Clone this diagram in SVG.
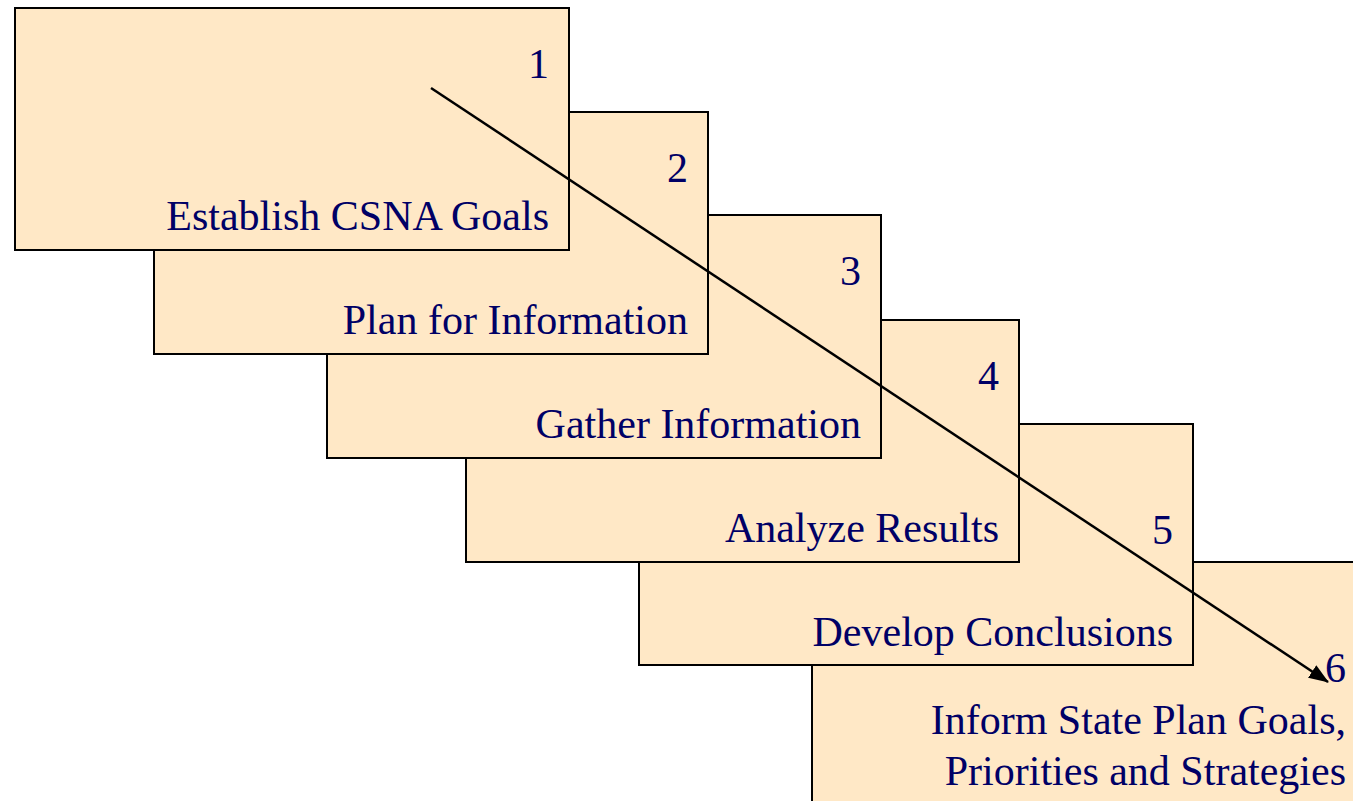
<svg xmlns="http://www.w3.org/2000/svg" width="1353" height="801" viewBox="0 0 1353 801">
<defs>
<marker id="ah" markerWidth="20" markerHeight="15" refX="19" refY="7.5" orient="auto" markerUnits="userSpaceOnUse" viewBox="0 0 20 15">
<path d="M0,0 L20,7.5 L0,15 z" fill="#000"/>
</marker>
</defs>
<rect width="1353" height="801" fill="#fff"/>
<g id="node6"><rect x="812" y="562" width="560" height="260" fill="#FFE8C6" stroke="#000" stroke-width="2"/>
<text x="1346" y="682" font-family="Times New Roman" font-size="42" fill="#000066" text-anchor="end" style="font-family:'Liberation Serif','Times New Roman',serif !important">6</text>
<text x="1346" y="734" font-family="Times New Roman" font-size="42" fill="#000066" text-anchor="end" style="font-family:'Liberation Serif','Times New Roman',serif !important">Inform State Plan Goals,</text>
<text x="1346" y="785" font-family="Times New Roman" font-size="42" fill="#000066" text-anchor="end" style="font-family:'Liberation Serif','Times New Roman',serif !important">Priorities and Strategies</text></g>
<g id="node5"><rect x="639" y="424" width="554" height="241" fill="#FFE8C6" stroke="#000" stroke-width="2"/>
<text x="1173" y="544" font-family="Times New Roman" font-size="42" fill="#000066" text-anchor="end" style="font-family:'Liberation Serif','Times New Roman',serif !important">5</text>
<text x="1173" y="646" font-family="Times New Roman" font-size="42" fill="#000066" text-anchor="end" style="font-family:'Liberation Serif','Times New Roman',serif !important">Develop Conclusions</text></g>
<g id="node4"><rect x="466" y="320" width="553" height="242" fill="#FFE8C6" stroke="#000" stroke-width="2"/>
<text x="999" y="390" font-family="Times New Roman" font-size="42" fill="#000066" text-anchor="end" style="font-family:'Liberation Serif','Times New Roman',serif !important">4</text>
<text x="999" y="542" font-family="Times New Roman" font-size="42" fill="#000066" text-anchor="end" style="font-family:'Liberation Serif','Times New Roman',serif !important">Analyze Results</text></g>
<g id="node3"><rect x="327" y="215" width="554" height="243" fill="#FFE8C6" stroke="#000" stroke-width="2"/>
<text x="861" y="285" font-family="Times New Roman" font-size="42" fill="#000066" text-anchor="end" style="font-family:'Liberation Serif','Times New Roman',serif !important">3</text>
<text x="861" y="438" font-family="Times New Roman" font-size="42" fill="#000066" text-anchor="end" style="font-family:'Liberation Serif','Times New Roman',serif !important">Gather Information</text></g>
<g id="node2"><rect x="154" y="112" width="554" height="242" fill="#FFE8C6" stroke="#000" stroke-width="2"/>
<text x="688" y="182" font-family="Times New Roman" font-size="42" fill="#000066" text-anchor="end" style="font-family:'Liberation Serif','Times New Roman',serif !important">2</text>
<text x="688" y="334" font-family="Times New Roman" font-size="42" fill="#000066" text-anchor="end" style="font-family:'Liberation Serif','Times New Roman',serif !important">Plan for Information</text></g>
<g id="node1"><rect x="15" y="8" width="554" height="242" fill="#FFE8C6" stroke="#000" stroke-width="2"/>
<text x="549" y="78" font-family="Times New Roman" font-size="42" fill="#000066" text-anchor="end" style="font-family:'Liberation Serif','Times New Roman',serif !important">1</text>
<text x="549" y="230" font-family="Times New Roman" font-size="42" fill="#000066" text-anchor="end" style="font-family:'Liberation Serif','Times New Roman',serif !important">Establish CSNA Goals</text></g>
<g id="connectors">
<line x1="431" y1="88" x2="1328" y2="682" stroke="#000" stroke-width="2.5" marker-end="url(#ah)"/>
</g>
</svg>
